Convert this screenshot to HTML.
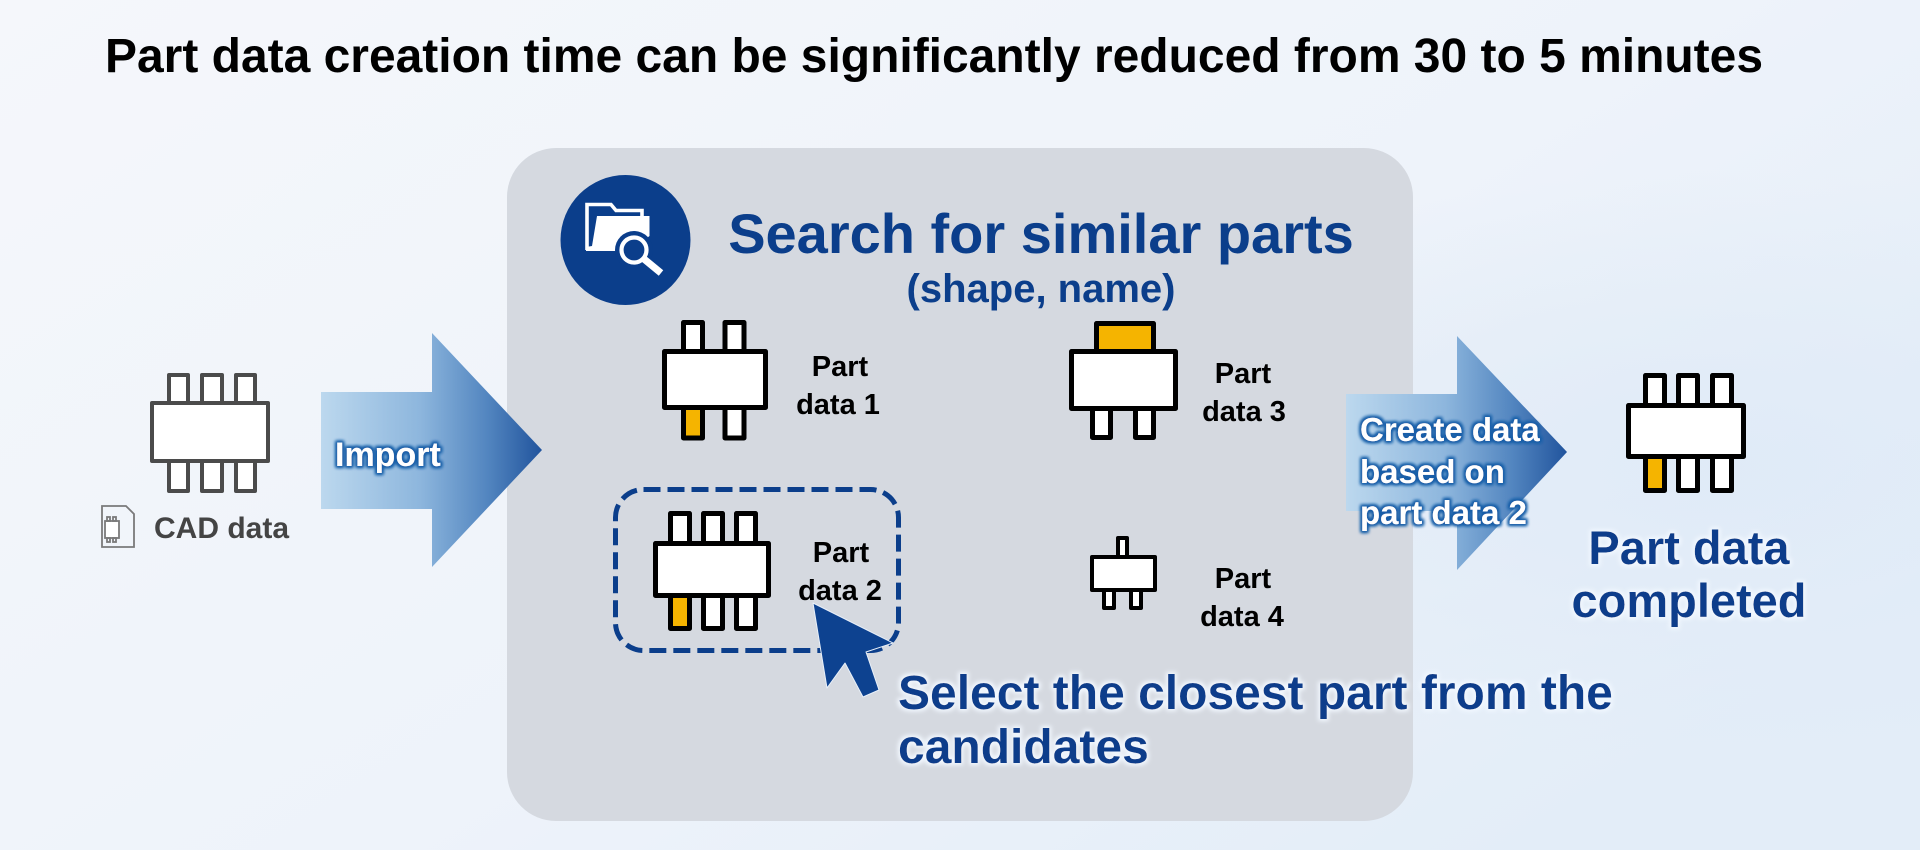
<!DOCTYPE html>
<html>
<head>
<meta charset="utf-8">
<style>
html,body{margin:0;padding:0;width:1920px;height:850px;overflow:hidden;background:#f0f4fa;}
svg{display:block;}
text{font-family:"Liberation Sans",Arial,sans-serif;font-weight:bold;}
</style>
</head>
<body>
<svg width="1920" height="850" viewBox="0 0 1920 850" xmlns="http://www.w3.org/2000/svg">
<defs>
  <linearGradient id="bg" x1="0" y1="0" x2="1" y2="0.7">
    <stop offset="0" stop-color="#f5f7fb"/>
    <stop offset="0.6" stop-color="#eef3fa"/>
    <stop offset="1" stop-color="#e3edf8"/>
  </linearGradient>
  <radialGradient id="bg2" cx="0.9" cy="0.55" r="0.35">
    <stop offset="0" stop-color="#dfeaf7" stop-opacity="0.9"/>
    <stop offset="1" stop-color="#dfeaf7" stop-opacity="0"/>
  </radialGradient>
  <linearGradient id="arr" x1="0" y1="0" x2="1" y2="0">
    <stop offset="0" stop-color="#bcd8ee"/>
    <stop offset="0.45" stop-color="#8db6dd"/>
    <stop offset="0.75" stop-color="#5386c0"/>
    <stop offset="1" stop-color="#21549d"/>
  </linearGradient>
  <filter id="wglow" x="-20%" y="-40%" width="140%" height="180%">
    <feMorphology in="SourceAlpha" operator="dilate" radius="1.6" result="d"/>
    <feGaussianBlur in="d" stdDeviation="1.5" result="b"/>
    <feFlood flood-color="#1a5ea8"/>
    <feComposite in2="b" operator="in" result="g"/>
    <feMerge><feMergeNode in="g"/><feMergeNode in="g"/><feMergeNode in="SourceGraphic"/></feMerge>
  </filter>
  <filter id="lglow" x="-20%" y="-40%" width="140%" height="180%">
    <feMorphology in="SourceAlpha" operator="dilate" radius="2" result="d"/>
    <feGaussianBlur in="d" stdDeviation="2.2" result="b"/>
    <feFlood flood-color="#f2f8ff"/>
    <feComposite in2="b" operator="in" result="g"/>
    <feMerge><feMergeNode in="g"/><feMergeNode in="SourceGraphic"/></feMerge>
  </filter>
</defs>

<!-- background -->
<rect x="0" y="0" width="1920" height="850" fill="url(#bg)"/>
<rect x="0" y="0" width="1920" height="850" fill="url(#bg2)"/>

<!-- title -->
<text x="105" y="72" font-size="48" fill="#000" textLength="1658" lengthAdjust="spacingAndGlyphs">Part data creation time can be significantly reduced from 30 to 5 minutes</text>

<!-- panel -->
<rect x="507" y="148" width="906" height="673" rx="49" ry="49" fill="#d5d9e0"/>

<!-- circle icon -->
<circle cx="625.5" cy="240" r="65" fill="#0b3e8b"/>
<path d="M587,250 V204.5 H611 L616,210.5 H642 V217" fill="none" stroke="#fff" stroke-width="3.6" stroke-linejoin="miter"/>
<polygon points="597,216 649.5,216 649.5,236 630,251 586,251 586,247 592,246" fill="#fff"/>
<circle cx="634" cy="250" r="19" fill="#0b3e8b"/>
<line x1="647" y1="261" x2="662" y2="274" stroke="#0b3e8b" stroke-width="12"/>
<circle cx="634" cy="250" r="12.5" fill="#0b3e8b" stroke="#fff" stroke-width="4.2"/>
<line x1="644" y1="259" x2="661" y2="273" stroke="#fff" stroke-width="7"/>

<!-- search title -->
<text x="1041" y="253" font-size="56" fill="#0b3e8b" text-anchor="middle">Search for similar parts</text>
<text x="1041" y="302" font-size="40" fill="#0b3e8b" text-anchor="middle">(shape, name)</text>

<!-- CAD chip (gray) -->
<g fill="#fff" stroke="#4b4b4b" stroke-width="4" stroke-linejoin="round">
  <rect x="169" y="375" width="19" height="30"/>
  <rect x="202" y="375" width="20" height="30"/>
  <rect x="236" y="375" width="19" height="30"/>
  <rect x="169" y="459" width="19" height="32"/>
  <rect x="202" y="459" width="20" height="32"/>
  <rect x="236" y="459" width="19" height="32"/>
  <rect x="152" y="403" width="116" height="58"/>
</g>
<!-- doc icon -->
<g fill="none" stroke="#7a7a7a" stroke-width="1.8">
  <path d="M102,506 H126 L134,514 V547 H102 Z"/>
  <rect x="105" y="521" width="14" height="17" fill="#fff"/>
  <rect x="107" y="517" width="3" height="4"/>
  <rect x="113" y="517" width="3" height="4"/>
  <rect x="107" y="538" width="3" height="4"/>
  <rect x="113" y="538" width="3" height="4"/>
</g>
<text x="154" y="538" font-size="30" fill="#444">CAD data</text>

<!-- arrow 1 -->
<polygon points="321,392 432,392 432,333 542,450 432,567 432,509 321,509" fill="url(#arr)"/>
<text x="335" y="466" font-size="34" fill="#fff" filter="url(#wglow)">Import</text>

<!-- part data 1 -->
<g fill="#fff" stroke="#000" stroke-width="5" stroke-linejoin="round">
  <rect x="683.5" y="322.5" width="19" height="32"/>
  <rect x="725" y="322.5" width="19" height="32"/>
  <rect x="683.5" y="405" width="19" height="33" fill="#f5b400"/>
  <rect x="725" y="405" width="19" height="33"/>
  <rect x="664.5" y="351.5" width="101" height="56"/>
</g>
<text font-size="29" fill="#000" text-anchor="middle"><tspan x="840" y="376">Part</tspan><tspan x="838" y="414">data 1</tspan></text>

<!-- part data 3 -->
<g fill="#fff" stroke="#000" stroke-width="5" stroke-linejoin="round">
  <rect x="1096.5" y="323.5" width="57" height="30" fill="#f5b400"/>
  <rect x="1092.5" y="406" width="18" height="31.5"/>
  <rect x="1135.5" y="406" width="18" height="31.5"/>
  <rect x="1071.5" y="351.5" width="104" height="57"/>
</g>
<text font-size="29" fill="#000" text-anchor="middle"><tspan x="1243" y="383">Part</tspan><tspan x="1244" y="421">data 3</tspan></text>

<!-- part data 2 -->
<g fill="#fff" stroke="#000" stroke-width="5" stroke-linejoin="round">
  <rect x="670.5" y="513.5" width="19" height="32"/>
  <rect x="703.5" y="513.5" width="19" height="32"/>
  <rect x="736.5" y="513.5" width="19" height="32"/>
  <rect x="670.5" y="594" width="19" height="34.5" fill="#f5b400"/>
  <rect x="703.5" y="594" width="19" height="34.5"/>
  <rect x="736.5" y="594" width="19" height="34.5"/>
  <rect x="655.5" y="543.5" width="113" height="52"/>
</g>
<text font-size="29" fill="#000" text-anchor="middle"><tspan x="841" y="562">Part</tspan><tspan x="840" y="600">data 2</tspan></text>
<rect x="615.5" y="489.5" width="283" height="161" rx="28" ry="28" fill="none" stroke="#0b3e8b" stroke-width="5" stroke-dasharray="17 7"/>

<!-- part data 4 -->
<g fill="#fff" stroke="#000" stroke-width="4" stroke-linejoin="round">
  <rect x="1118" y="538" width="9" height="21"/>
  <rect x="1104" y="587" width="10" height="21"/>
  <rect x="1131" y="587" width="10" height="21"/>
  <rect x="1092" y="557" width="63" height="33"/>
</g>
<text font-size="29" fill="#000" text-anchor="middle"><tspan x="1243" y="588">Part</tspan><tspan x="1242" y="626">data 4</tspan></text>

<!-- cursor -->
<polygon points="813,603 827,688 845,663 863,697 879,690 866,652 893,643" fill="#0d4290" stroke="#e8f0fa" stroke-width="1" stroke-linejoin="round"/>

<!-- select text -->
<g font-size="48" fill="#0b3e8b" filter="url(#lglow)">
  <text x="898" y="709">Select the closest part from the</text>
  <text x="898" y="763">candidates</text>
</g>

<!-- arrow 2 -->
<polygon points="1346,394 1457,394 1457,336 1567,452 1457,570 1457,511 1346,511" fill="url(#arr)"/>
<g font-size="33" fill="#fff" filter="url(#wglow)">
  <text x="1360" y="441">Create data</text>
  <text x="1360" y="483">based on</text>
  <text x="1360" y="524">part data 2</text>
</g>

<!-- completed chip -->
<g fill="#fff" stroke="#000" stroke-width="5" stroke-linejoin="round">
  <rect x="1645.5" y="375.5" width="19" height="32"/>
  <rect x="1678.5" y="375.5" width="19" height="32"/>
  <rect x="1712.5" y="375.5" width="19" height="32"/>
  <rect x="1645.5" y="455" width="19" height="35.5" fill="#f5b400"/>
  <rect x="1678.5" y="455" width="19" height="35.5"/>
  <rect x="1712.5" y="455" width="19" height="35.5"/>
  <rect x="1628.5" y="405.5" width="115" height="51"/>
</g>
<g font-size="47" fill="#0b3e8b" text-anchor="middle" filter="url(#lglow)">
  <text x="1689" y="564">Part data</text>
  <text x="1689" y="617">completed</text>
</g>
</svg>
</body>
</html>
